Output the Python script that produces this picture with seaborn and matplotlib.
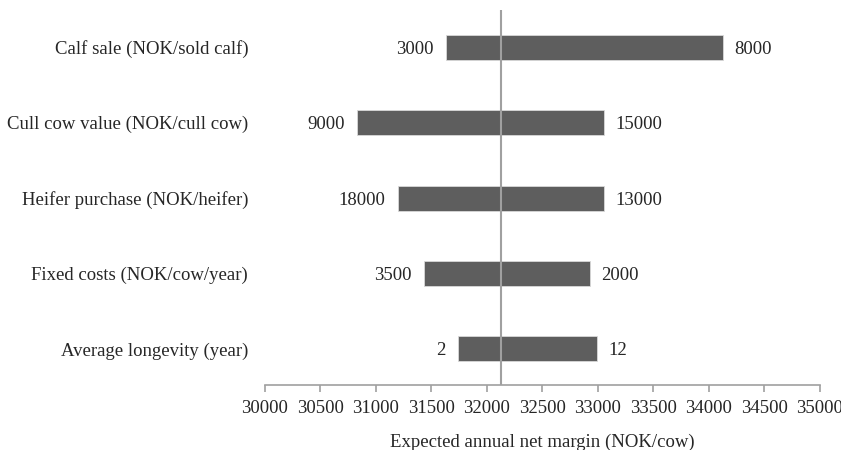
import matplotlib
matplotlib.use("Agg")
import matplotlib.pyplot as plt
import seaborn as sns
import pandas as pd

parameters = ["Calf sale (NOK/sold calf)", "Cull cow value (NOK/cull cow)",
              "Heifer purchase (NOK/heifer)", "Fixed costs (NOK/cow/year)",
              "Average longevity (year)"]
low_margin = [31631, 30829, 31198, 31432, 31742]
high_margin = [34126, 33054, 33054, 32930, 32991]
low_labels = ["3000", "9000", "18000", "3500", "2"]
high_labels = ["8000", "15000", "13000", "2000", "12"]
base_margin = 32125
x_ticks = list(range(30000, 35001, 500))

df = pd.DataFrame({"param": parameters, "low": low_margin, "high": high_margin})
df["span"] = df["high"] - df["low"]

sns.set_style("white")
plt.rcParams["font.family"] = ["Liberation Serif", "DejaVu Serif"]
FS = 13.5

fig = plt.figure(figsize=(8.41, 4.5), dpi=100)
ax = fig.add_axes([0.315, 0.1444, 0.66, 0.834])

sns.barplot(data=df, x="span", y="param", orient="h", color="#5e5e5e",
            saturation=1, width=0.33, edgecolor="#d9d9d9", linewidth=0.6, ax=ax)
for patch, lo in zip(ax.patches, df["low"]):
    patch.set_x(lo)

ax.axvline(base_margin, color="#a0a0a0", lw=1.5, zorder=3)

for i, (lo, hi, ll, hl) in enumerate(zip(low_margin, high_margin, low_labels, high_labels)):
    ax.annotate(ll, (lo, i), xytext=(-9, 0), textcoords="offset points",
                ha="right", va="center_baseline", fontsize=FS)
    ax.annotate(hl, (hi, i), xytext=(8, 0), textcoords="offset points",
                ha="left", va="center_baseline", fontsize=FS)

ax.set_xlim(30000, 35000)
ax.set_ylim(4.48, -0.5)
ax.set_xticks(x_ticks)
ax.set_xticklabels([str(t) for t in x_ticks], fontsize=FS)
ax.set_xlabel("Expected annual net margin (NOK/cow)", fontsize=FS, labelpad=12)
ax.set_ylabel("")
ax.tick_params(axis="y", length=0, labelsize=FS, pad=12)
ax.tick_params(axis="x", bottom=True, direction="out", length=5, color="#a0a0a0",
               width=1.2, pad=6)
for s in ["top", "right", "left"]:
    ax.spines[s].set_visible(False)
ax.spines["bottom"].set_color("#a0a0a0")
ax.spines["bottom"].set_linewidth(1.2)
for lbl in ax.get_xticklabels():
    lbl.set_clip_on(False)

fig.savefig("out.png", dpi=100)
